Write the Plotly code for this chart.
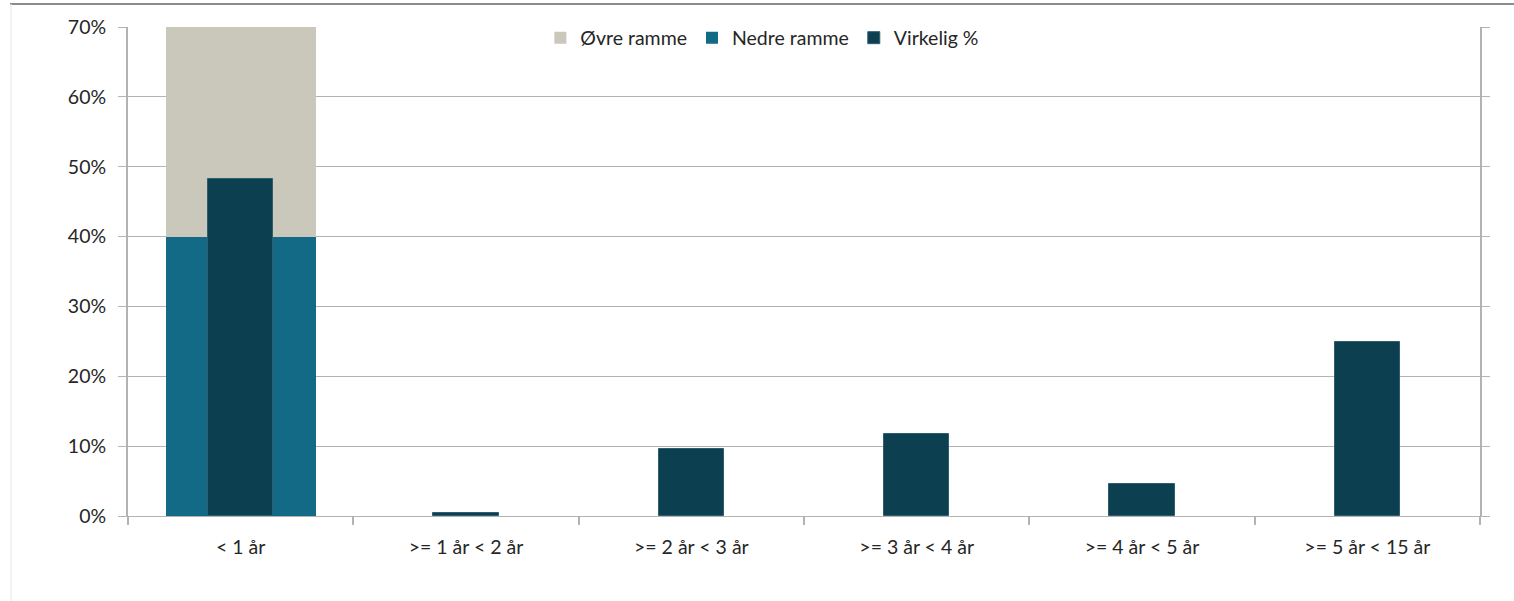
import plotly.graph_objects as go

categories = ["< 1 år", ">= 1 år < 2 år", ">= 2 år < 3 år", ">= 3 år < 4 år", ">= 4 år < 5 år", ">= 5 år < 15 år"]
ovre_ramme = [70, None, None, None, None, None]
nedre_ramme = [40, None, None, None, None, None]
virkelig = [48.2, 0.4, 9.6, 11.7, 4.6, 24.9]
y_ticks = [0, 10, 20, 30, 40, 50, 60, 70]

FONT = "Lato"
FS = 19.5
GRID = "#B3B3B3"
TXT = "#262626"

fig = go.Figure()
fig.add_trace(go.Bar(x=categories, y=ovre_ramme, name="Øvre ramme", width=0.666,
                     marker=dict(color="#C9C8BB", line=dict(width=0))))
fig.add_trace(go.Bar(x=categories, y=nedre_ramme, name="Nedre ramme", width=0.666,
                     marker=dict(color="#136A86", line=dict(width=0))))
fig.add_trace(go.Bar(x=categories, y=virkelig, name="Virkelig %", width=0.29,
                     marker=dict(color="#0C3F50", line=dict(width=1, color="#2E5F6E"))))

fig.update_layout(
    width=1514, height=601,
    margin=dict(l=128, r=34, t=27, b=85, autoexpand=False),
    barmode="overlay",
    plot_bgcolor="white", paper_bgcolor="white",
    font=dict(family=FONT, size=FS, color=TXT),
    legend=dict(orientation="h", x=0.305, y=1 + 8.5 / 489,
                xanchor="left", yanchor="top",
                bgcolor="rgba(0,0,0,0)", font=dict(size=FS, family=FONT, color=TXT),
                itemwidth=30, traceorder="normal", tracegroupgap=0),
    showlegend=True,
    bargap=0,
)
fig.update_yaxes(range=[0, 70], tickvals=y_ticks, ticktext=[f"{v}%" for v in y_ticks],
                 showgrid=True, gridcolor=GRID, gridwidth=1,
                 showline=True, linecolor=GRID, linewidth=2, mirror="ticks",
                 ticks="outside", ticklen=8, tickcolor=GRID, tickwidth=1,
                 zeroline=False, ticklabelstandoff=8,
                 tickfont=dict(family=FONT, size=FS, color=TXT))
fig.update_xaxes(showgrid=False, showline=True, linecolor=GRID, linewidth=1,
                 tickson="boundaries", ticks="outside", ticklen=8, tickcolor=GRID, tickwidth=2,
                 ticklabelstandoff=14,
                 tickfont=dict(family=FONT, size=FS, color=TXT))

# decorative frame lines of the original page
top_y = 1 + 23 / 489
fig.add_shape(type="line", xref="paper", yref="paper", x0=(10 - 128) / 1352, x1=1.03, y0=top_y, y1=top_y,
              line=dict(color="#8C8C8C", width=2))
fig.add_shape(type="line", xref="paper", yref="paper", x0=(11 - 128) / 1352, x1=(11 - 128) / 1352,
              y0=top_y, y1=-85 / 489, line=dict(color="#E6E6E6", width=1))

fig.write_html("out.html", config={"displayModeBar": False},
               post_script="document.body.style.margin='0';document.body.style.overflow='hidden';")
